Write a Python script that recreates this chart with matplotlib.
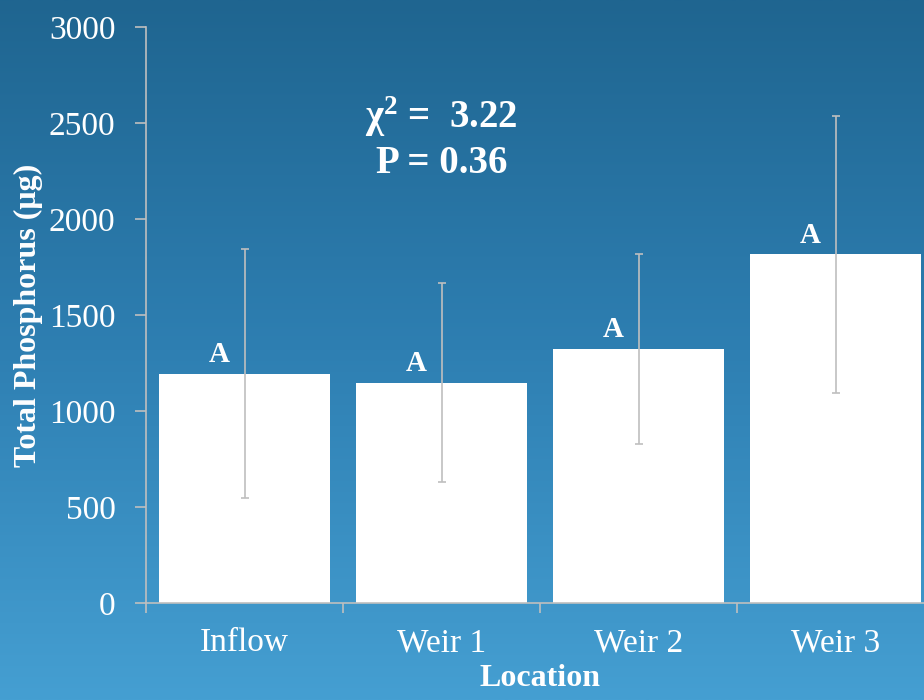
import numpy as np
import matplotlib
matplotlib.use('Agg')
import matplotlib.pyplot as plt
from matplotlib.colors import LinearSegmentedColormap

locations = ['Inflow', 'Weir 1', 'Weir 2', 'Weir 3']
phosphorus = [1195, 1148, 1325, 1815]
errors = [650, 520, 495, 720]
letters = ['A', 'A', 'A', 'A']

plt.rcParams['font.family'] = ['Liberation Serif', 'DejaVu Serif']

fig = plt.figure(figsize=(9.24, 7.0), dpi=100)

# blue gradient backdrop
bg = fig.add_axes([0, 0, 1, 1], zorder=0)
grad = np.linspace(0, 1, 256).reshape(-1, 1)
cmap = LinearSegmentedColormap.from_list('bg', ['#1f6590', '#2e7fb2', '#459fd2'])
bg.imshow(grad, aspect='auto', cmap=cmap, extent=[0, 1, 0, 1], origin='upper')
bg.axis('off')

ax = fig.add_axes([0.158, 0.1386, 0.853, 0.8229], zorder=1)
ax.patch.set_alpha(0)
x = np.arange(len(locations))
ax.bar(x, phosphorus, width=0.87, color='white', zorder=2)
ax.errorbar(x, phosphorus, yerr=errors, fmt='none', ecolor='#bfbfbf',
            elinewidth=1.2, capsize=3, capthick=1.2, zorder=3)

for xi, v, lab in zip(x, phosphorus, letters):
    ax.text(xi - 0.13, v + 30, lab, ha='center', va='bottom', color='white',
            fontsize=21, fontweight='bold', zorder=4)

ax.text(1.0, 2530, r'$\mathregular{\chi^2}$ =  3.22', ha='center', va='center',
        color='white', fontsize=28, fontweight='bold')
ax.text(1.0, 2290, 'P = 0.36', ha='center', va='center',
        color='white', fontsize=28, fontweight='bold')

ax.set_xlim(-0.5, 3.5)
ax.set_ylim(0, 3000)
ax.set_yticks(np.arange(0, 3001, 500))
ax.set_xticks(x)
ax.set_xticklabels(locations)
ax.set_xticks(np.arange(-0.5, 3.6, 1), minor=True)
ax.tick_params(axis='x', which='major', length=0, pad=18, labelsize=24, labelcolor='white')
ax.tick_params(axis='x', which='minor', length=7, width=1.2, color='#bfbfbf', direction='out')
ax.tick_params(axis='y', length=8, width=1.2, color='#bfbfbf', labelsize=24,
               labelcolor='white', pad=14)

for s in ['top', 'right']:
    ax.spines[s].set_visible(False)
for s in ['left', 'bottom']:
    ax.spines[s].set_color('#bfbfbf')
    ax.spines[s].set_linewidth(1.2)

ax.set_xlabel('Location', color='white', fontsize=23, fontweight='bold', labelpad=4)
ax.set_ylabel('Total Phosphorus (μg)', color='white', fontsize=23, fontweight='bold', labelpad=4)

fig.savefig('out.png', dpi=100)
